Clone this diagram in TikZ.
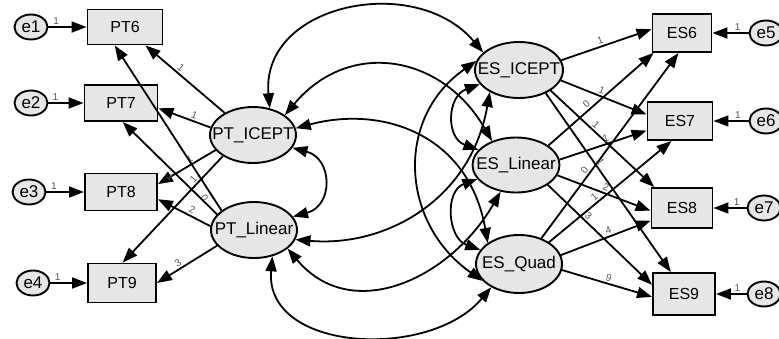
\documentclass[tikz,border=0pt]{standalone}
\usepackage{fontspec}
\setmainfont{Liberation Sans}
\usetikzlibrary{arrows.meta,shapes.geometric}
\definecolor{boxgray}{HTML}{E6E6E6}
\definecolor{labgray}{HTML}{555555}
\newcommand{\zbox}[1]{\makebox[0pt]{#1}}
\begin{document}
\begin{tikzpicture}[x=1pt,y=-1pt,
  lat/.style={ellipse,draw,line width=1.9pt,fill=boxgray,inner sep=0pt,minimum width=86pt,minimum height=56pt,font=\fontsize{17}{17}\selectfont},
  obs/.style={rectangle,draw,line width=1.9pt,fill=boxgray,inner sep=0pt,minimum width=72pt,minimum height=36pt,font=\fontsize{16}{16}\selectfont},
  err/.style={ellipse,draw,line width=1.9pt,fill=boxgray,inner sep=0pt,minimum width=33pt,minimum height=25pt,font=\fontsize{17}{17}\selectfont},
  reg/.style={line width=1.8pt,-{Triangle[length=15pt,width=11pt]}},
  cov/.style={line width=1.8pt,{Triangle[length=15pt,width=11pt]}-{Triangle[length=15pt,width=11pt]}},
  lab/.style={font=\fontsize{10}{10}\selectfont,text=labgray,sloped,inner sep=1.5pt}
]
\useasboundingbox (0,0) rectangle (779,338);
% observed left
\node[obs,minimum width=75pt,minimum height=35pt] (PT6) at (125,27) {PT6};
\node[obs,minimum width=73pt] (PT7) at (121,103) {PT7};
\node[obs,minimum height=37pt] (PT8) at (121,192) {PT8};
\node[obs,minimum width=68pt,minimum height=39pt] (PT9) at (122,283) {PT9};
\node[err] (e1) at (31,27) {\zbox{e1}};
\node[err] (e2) at (31,103) {\zbox{e2}};
\node[err] (e3) at (29,192) {\zbox{e3}};
\node[err] (e4) at (33,283) {\zbox{e4}};
% observed right
\node[obs,minimum width=59pt,minimum height=38pt] (ES6) at (682,33) {ES6};
\node[obs,minimum width=65pt,minimum height=38pt] (ES7) at (680,121) {ES7};
\node[obs,minimum width=61pt,minimum height=40pt] (ES8) at (682,208) {ES8};
\node[obs,minimum width=62pt,minimum height=42pt] (ES9) at (684,294) {ES9};
\node[err] (e5) at (766,33) {\zbox{e5}};
\node[err] (e6) at (766,121) {\zbox{e6}};
\node[err] (e7) at (764,208) {\zbox{e7}};
\node[err] (e8) at (764,294) {\zbox{e8}};
% latent
\node[lat] (PTI) at (253,135) {\zbox{PT\_ICEPT}};
\node[lat] (PTL) at (254,230) {\zbox{PT\_Linear}};
\node[lat,minimum width=88pt] (ESI) at (519,70) {\zbox{ES\_ICEPT}};
\node[lat,minimum width=87pt,minimum height=55pt] (ESL) at (516,165) {\zbox{ES\_Linear}};
\node[lat,minimum height=58pt] (ESQ) at (519,264) {\zbox{ES\_Quad}};
% error paths
\draw[reg] (e1) -- node[lab,above,pos=0.2]{1} (PT6);
\draw[reg] (e2) -- node[lab,above,pos=0.2]{1} (PT7);
\draw[reg] (e3) -- node[lab,above,pos=0.2]{1} (PT8);
\draw[reg] (e4) -- node[lab,above,pos=0.2]{1} (PT9);
\draw[reg] (e5) -- node[lab,above,pos=0.3]{1} (ES6);
\draw[reg] (e6) -- node[lab,above,pos=0.3]{1} (ES7);
\draw[reg] (e7) -- node[lab,above,pos=0.3]{1} (ES8);
\draw[reg] (e8) -- node[lab,above,pos=0.3]{1} (ES9);
% left loadings
\draw[reg] (PTI.142) -- node[lab,above,pos=0.6]{1} (PT6.-42);
\draw[reg] (PTI.170) -- node[lab,above,pos=0.35]{1} (PT7.-8);
\draw[reg] (PTI.202) -- node[lab,above,pos=0.4]{1} (PT8.12);
\draw[reg] (PTI.215) -- node[lab,above,pos=0.25]{1} (PT9.88);
\draw[reg] (PTL.149) -- node[lab,below,pos=0.1,inner sep=3pt]{0} (PT6.-119);
\draw[reg] (PTL.157) -- node[lab,below,pos=0.45]{1} (PT7.-85);
\draw[reg] (PTL.175) -- node[lab,above,pos=0.4]{2} (PT8.-11);
\draw[reg] (PTL.203) -- node[lab,above,pos=0.6]{3} (PT9.0);
% right loadings
\draw[reg] (ESI.13) -- node[lab,above,pos=0.45]{1} (ES6.173);
\draw[reg] (ESI.-14) -- node[lab,above,pos=0.45]{1} (ES7.169);
\draw[reg] (ESI.-33) -- node[lab,above,pos=0.4]{1} (ES8.143);
\draw[reg] (ESI.-41) -- node[lab,above,pos=0.4]{1} (ES9.121);
\draw[reg] (ESL.31) -- node[lab,above,pos=0.4]{0} (ES6.215);
\draw[reg] (ESL.7) -- node[lab,above,pos=0.55]{1} (ES7.196);
\draw[reg] (ESL.-14) -- node[lab,above,pos=0.5]{2} (ES8.185);
\draw[reg] (ESL.-32) -- node[lab,above,pos=0.35]{3} (ES9.164);
\draw[reg] (ESQ.49) -- node[lab,above,pos=0.35]{0} (ES6.-100);
\draw[reg] (ESQ.36) -- node[lab,above,pos=0.4]{1} (ES7.-113);
\draw[reg] (ESQ.12) -- node[lab,above,pos=0.55]{4} (ES8.202);
\draw[reg] (ESQ.-8) -- node[lab,above,pos=0.5]{9} (ES9.185);
% covariances
\draw[cov] (PTI.-18) .. controls +(-15:42pt) and +(15:42pt) .. (PTL.19);
\draw[cov] (PTI.58) .. controls +(95:105pt) and +(130:105pt) .. (ESI.154);
\draw[cov] (PTI.32) .. controls +(50:100pt) and +(120:100pt) .. (ESL.135);
\draw[cov] (PTI.9) .. controls +(15:90pt) and +(100:110pt) .. (ESQ.146);
\draw[cov] (PTL.-13) .. controls +(-5:90pt) and +(-100:110pt) .. (ESI.217);
\draw[cov] (PTL.-29) .. controls +(-50:100pt) and +(-120:100pt) .. (ESL.-120);
\draw[cov] (PTL.-55) .. controls +(-95:96pt) and +(-130:96pt) .. (ESQ.-140);
\draw[cov] (ESI.200) .. controls +(200:35pt) and +(160:35pt) .. (ESL.158);
\draw[cov] (ESL.200) .. controls +(200:35pt) and +(160:35pt) .. (ESQ.160);
\draw[cov] (ESI.168) .. controls +(215:100pt) and +(145:100pt) .. (ESQ.-155);
\end{tikzpicture}
\end{document}
